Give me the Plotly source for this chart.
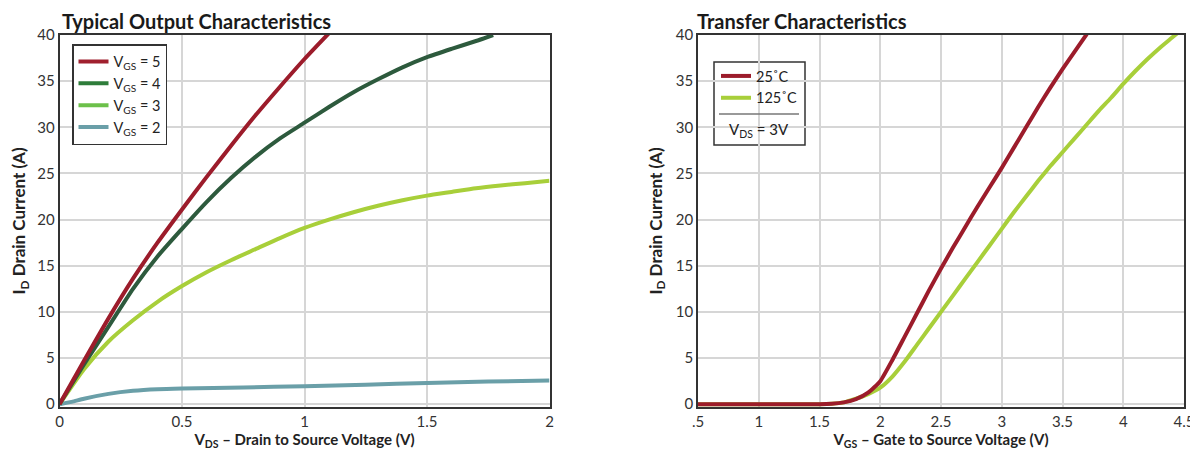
import plotly.graph_objects as go

# ---------------- data: Typical Output Characteristics ----------------
vds_vgs5 = [0, 0.1, 0.2, 0.3, 0.4, 0.5, 0.6, 0.7, 0.8, 0.9, 1.0, 1.1]
id_vgs5 = [0, 4.7, 9.3, 13.6, 17.5, 21.1, 24.6, 28.0, 31.3, 34.4, 37.4, 40.2]

vds_vgs4 = [0, 0.1, 0.2, 0.3, 0.4, 0.5, 0.6, 0.7, 0.8, 0.9, 1.0, 1.1, 1.2, 1.3, 1.4, 1.5, 1.6, 1.7, 1.77]
id_vgs4 = [0, 4.3, 8.4, 12.5, 16.0, 19.0, 21.9, 24.5, 26.8, 28.8, 30.5, 32.2, 33.8, 35.2, 36.5, 37.6, 38.5, 39.35, 40.0]

vds_vgs3 = [0, 0.1, 0.2, 0.3, 0.4, 0.5, 0.6, 0.7, 0.8, 0.9, 1.0, 1.1, 1.2, 1.3, 1.4, 1.5, 1.6, 1.7, 1.8, 1.9, 2.0]
id_vgs3 = [0, 3.8, 6.8, 9.1, 11.1, 12.8, 14.3, 15.6, 16.8, 18.0, 19.1, 20.0, 20.8, 21.5, 22.1, 22.6, 23.0, 23.4, 23.7, 23.95, 24.2]

vds_vgs2 = [0, 0.05, 0.1, 0.2, 0.3, 0.4, 0.5, 0.75, 1.0, 1.25, 1.5, 1.75, 2.0]
id_vgs2 = [0, 0.25, 0.6, 1.12, 1.45, 1.62, 1.7, 1.82, 1.95, 2.12, 2.3, 2.45, 2.57]

# ---------------- data: Transfer Characteristics ----------------
vgs_25c = [0.5, 1.0, 1.5, 1.6, 1.7, 1.8, 1.9, 2.0, 2.1, 2.2, 2.3, 2.4, 2.5, 2.6, 2.7, 2.8, 2.9,
           3.0, 3.1, 3.2, 3.3, 3.4, 3.5, 3.6, 3.7]
id_25c = [0, 0, 0, 0.05, 0.2, 0.55, 1.25, 2.5, 4.8, 7.3, 9.8, 12.3, 14.7, 17.0, 19.2, 21.4, 23.5,
          25.6, 27.8, 30.0, 32.2, 34.3, 36.3, 38.2, 40.1]

vgs_125c = [0.5, 1.0, 1.5, 1.6, 1.7, 1.8, 1.9, 2.0, 2.1, 2.2, 2.3, 2.4, 2.5, 2.6, 2.7, 2.8, 2.9, 3.0,
            3.1, 3.2, 3.3, 3.4, 3.5, 3.6, 3.7, 3.8, 3.9, 4.0, 4.1, 4.2, 4.3, 4.4, 4.5]
id_125c = [0, 0, 0, 0.05, 0.2, 0.6, 1.1, 1.8, 3.0, 4.6, 6.4, 8.2, 10.0, 11.8, 13.6, 15.4, 17.2, 19.0,
           20.8, 22.5, 24.2, 25.8, 27.3, 28.8, 30.3, 31.8, 33.2, 34.7, 36.1, 37.4, 38.6, 39.7, 40.8]

# ---------------- labels ----------------
out_names = ["V<sub>GS</sub> = 5", "V<sub>GS</sub> = 4", "V<sub>GS</sub> = 3", "V<sub>GS</sub> = 2"]
tr_names = ["25˚C", "125˚C"]
y_ticks = [0, 5, 10, 15, 20, 25, 30, 35, 40]
x1_ticks = [0, 0.5, 1, 1.5, 2]
x1_ticktext = ["0", "0.5", "1", "1.5", "2"]
x2_ticks = [0.5, 1, 1.5, 2, 2.5, 3, 3.5, 4, 4.5]
x2_ticktext = [".5", "1", "1.5", "2", "2.5", "3", "3.5", "4", "4.5"]

FONT = "Lato, Roboto, Liberation Sans, sans-serif"
OFF = 8  # page body margin
W, H = 1190, 443


def px(x):
    return (x - OFF) / W


def py(y):
    return 1 - (y - OFF) / H


line_cols = ["#9c1c2b", "#2d5a3d", "#a8cf3a", "#6a9fa8"]
legend_cols = ["#a0202e", "#2e7d3a", "#6cc04a", "#6a9fa8"]
red, lime = "#9c1c2b", "#a8cf3a"

fig = go.Figure()

series = [(vds_vgs5, id_vgs5), (vds_vgs4, id_vgs4), (vds_vgs3, id_vgs3), (vds_vgs2, id_vgs2)]
for i in reversed(range(4)):
    xs, ys = series[i]
    fig.add_trace(go.Scatter(x=xs, y=ys, mode="lines",
                             line=dict(color=line_cols[i], width=4, shape="spline", smoothing=0.6),
                             showlegend=False, xaxis="x", yaxis="y", hoverinfo="skip"))
for i in range(4):
    fig.add_trace(go.Scatter(x=[None], y=[None], mode="lines", name=out_names[i],
                             line=dict(color=legend_cols[i], width=4), xaxis="x", yaxis="y", legend="legend"))

fig.add_trace(go.Scatter(x=vgs_125c, y=id_125c, mode="lines", name=tr_names[1],
                         line=dict(color=lime, width=4, shape="spline", smoothing=0.5),
                         showlegend=False, xaxis="x2", yaxis="y2"))
fig.add_trace(go.Scatter(x=vgs_25c, y=id_25c, mode="lines", name=tr_names[0],
                         line=dict(color=red, width=4, shape="spline", smoothing=0.5),
                         showlegend=False, xaxis="x2", yaxis="y2"))
fig.add_trace(go.Scatter(x=[None], y=[None], mode="lines", name=tr_names[0], line=dict(color=red, width=4),
                         xaxis="x2", yaxis="y2", legend="legend2"))
fig.add_trace(go.Scatter(x=[None], y=[None], mode="lines", name=tr_names[1], line=dict(color=lime, width=4),
                         xaxis="x2", yaxis="y2", legend="legend2"))

ydom = [py(407), py(35)]
d1 = [px(59.5), px(549.5)]
d2 = [px(698), px(1184)]

axis_common = dict(showgrid=True, gridcolor="#d6d6d6", gridwidth=1.5, showline=True, linecolor="#333333",
                   linewidth=1.5, mirror=True, ticks="", zeroline=False, automargin=False,
                   ticklabeloverflow="allow",
                   tickfont=dict(family=FONT, size=15, color="#333333"))
xt_font = dict(family=FONT, size=15, color="#222222")
yt_font = dict(family=FONT, size=17, color="#222222")

fig.update_layout(
    width=W, height=H, margin=dict(l=0, r=0, t=0, b=0, autoexpand=False),
    paper_bgcolor="white", plot_bgcolor="white",
    font=dict(family=FONT, color="#222222"),
    xaxis=dict(domain=d1, range=[0, 2], tickvals=x1_ticks, ticktext=x1_ticktext, anchor="y",
               title=dict(text="<b>V<sub>DS</sub> – Drain to Source Voltage (V)</b>", font=xt_font, standoff=1),
               **axis_common),
    yaxis=dict(domain=ydom, range=[-0.3, 40], tickvals=y_ticks, anchor="x",
               title=dict(text="<b>I<sub>D</sub> Drain Current (A)</b>", font=yt_font, standoff=9),
               **axis_common),
    xaxis2=dict(domain=d2, range=[0.5, 4.5], tickvals=x2_ticks, ticktext=x2_ticktext, anchor="y2",
                title=dict(text="<b>V<sub>GS</sub> – Gate to Source Voltage (V)</b>", font=xt_font, standoff=1),
                **axis_common),
    yaxis2=dict(domain=ydom, range=[-0.3, 40], tickvals=y_ticks, anchor="x2",
                title=dict(text="<b>I<sub>D</sub> Drain Current (A)</b>", font=yt_font, standoff=9),
                **axis_common),
    legend=dict(x=px(72), y=py(44), xanchor="left", yanchor="top", bgcolor="white",
                bordercolor="#333333", borderwidth=1.5, font=dict(family=FONT, size=14.5, color="#222222"),
                tracegroupgap=0, itemwidth=30),
    legend2=dict(x=px(716), y=py(60), xanchor="left", yanchor="top", bgcolor="rgba(0,0,0,0)",
                 borderwidth=0, font=dict(family=FONT, size=14.5, color="#222222"), itemwidth=30),
    annotations=[
        dict(text="<b>Typical Output Characteristics</b>", x=px(61), y=1.0, xref="paper", yref="paper",
             xanchor="left", yanchor="top", borderpad=0, showarrow=False,
             font=dict(family=FONT, size=20, color="#1a1a1a")),
        dict(text="<b>Transfer Characteristics</b>", x=px(696), y=1.0, xref="paper", yref="paper",
             xanchor="left", yanchor="top", borderpad=0, showarrow=False,
             font=dict(family=FONT, size=20, color="#1a1a1a")),
        dict(text="V<sub>DS</sub> = 3V", x=px(759), y=py(130), xref="paper", yref="paper",
             xanchor="center", yanchor="middle", showarrow=False, font=dict(family=FONT, size=15, color="#222222")),
    ],
    shapes=[
        dict(type="rect", xref="paper", yref="paper", x0=px(714), x1=px(805), y0=py(145), y1=py(62),
             line=dict(color="#333333", width=1.5), fillcolor="white", layer="below"),
        dict(type="line", xref="paper", yref="paper", x0=px(719), x1=px(799), y0=py(114), y1=py(114),
             line=dict(color="#777777", width=1.5)),
    ],
)

fig.write_html("out.html")
